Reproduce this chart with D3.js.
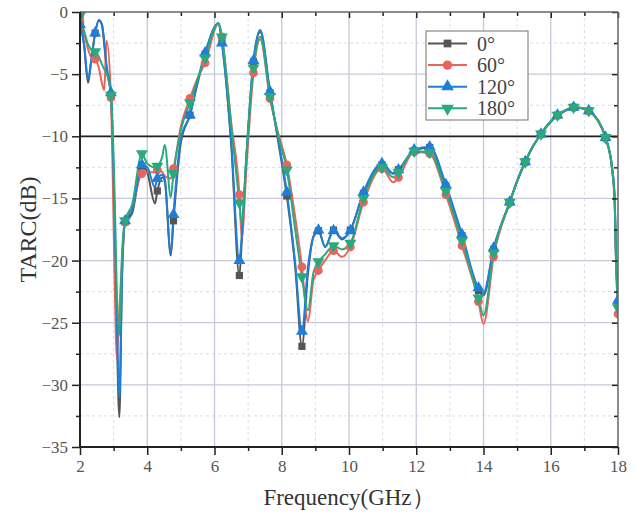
<!DOCTYPE html>
<html>
<head>
<meta charset="utf-8">
<script src="https://cdn.jsdelivr.net/npm/d3@7"></script>
<style>
  body { margin: 0; background: #fff; }
  svg { display: block; font-family: "Liberation Serif", "DejaVu Serif", serif; }
</style>
</head>
<body>
<svg id="chart" width="636" height="516"></svg>
<script>
"use strict";

// Frequency points (GHz)
const freq = [2.00, 2.12, 2.24, 2.33, 2.45, 2.56, 2.65, 2.72, 2.79, 2.92,
    3.05, 3.09, 3.17, 3.25, 3.34, 3.55, 3.84, 4.00, 4.23, 4.30,
    4.45, 4.52, 4.70, 4.78, 5.00, 5.27, 5.50, 5.72, 6.12, 6.22,
    6.50, 6.74, 6.81, 6.95, 7.16, 7.36, 7.65, 7.90, 8.15, 8.40,
    8.60, 8.78, 8.94, 9.09, 9.29, 9.54, 9.79, 10.04, 10.43, 10.98,
    11.32, 11.47, 11.94, 12.40, 12.88, 13.36, 13.85, 14.00, 14.30, 14.78,
    15.00, 15.24, 15.47, 15.71, 15.95, 16.20, 16.45, 16.68, 16.90, 17.13,
    17.40, 17.63, 17.82, 17.90, 17.94, 18.00];

// TARC (dB) for each angle
const tarc0 = [-0.6, -2.6, -5.7, -4.0, -1.7, -0.65, -1.0, -2.6, -4.6, -6.7,
    -20, -25, -32.6, -21.5, -16.9, -16.2, -12.4, -12.9, -15.4, -14.4,
    -13.3, -13.6, -19.6, -16.8, -10.5, -8.3, -5.7, -3.4, -0.9, -2.4,
    -10.8, -21.2, -18.5, -11.8, -4.0, -1.6, -6.5, -10.5, -14.8, -20.5,
    -26.9, -21.0, -18.1, -17.6, -18.9, -17.55, -18.3, -17.55, -14.6, -12.3,
    -13.0, -12.7, -11.15, -10.9, -14.0, -18.0, -22.4, -22.8, -19.1, -15.3,
    -13.6, -12.05, -10.8, -9.82, -8.95, -8.3, -7.9, -7.67, -7.72, -7.94,
    -8.7, -10.1, -12.5, -15.1, -19.7, -23.5];

const tarc60 = [-0.8, -1.7, -3.0, -3.6, -3.8, -4.5, -5.7, -6.3, -2.3, -6.9,
    -24, -27.9, -24, -20, -16.9, -15.8, -13.0, -12.9, -12.9, -12.7,
    -12.9, -13.2, -13.4, -12.6, -9.2, -6.95, -5.3, -4.1, -0.9, -2.0,
    -9.0, -14.7, -18.2, -12.5, -4.9, -2.2, -6.95, -9.8, -12.3, -16.5,
    -20.5, -24.9, -21.6, -20.8, -20.0, -19.2, -19.7, -18.9, -15.3, -12.6,
    -13.7, -13.3, -11.25, -11.4, -14.7, -18.8, -23.3, -25.1, -19.7, -15.35,
    -13.65, -12.1, -10.85, -9.85, -9.0, -8.35, -7.95, -7.7, -7.75, -7.98,
    -8.75, -10.15, -12.6, -15.3, -20.0, -24.3];

const tarc120 = [-1.0, -2.6, -5.4, -4.0, -1.7, -0.7, -1.0, -2.3, -4.3, -6.5,
    -19, -24, -31.0, -21, -16.8, -16.0, -12.3, -12.5, -14.1, -13.4,
    -13.1, -13.4, -19.4, -16.3, -10.2, -8.3, -5.5, -3.3, -0.9, -2.5,
    -10.5, -20.0, -18.0, -11.5, -3.9, -1.45, -6.4, -10.3, -14.5, -20.2,
    -25.7, -20.5, -18.1, -17.55, -18.9, -17.6, -18.2, -17.6, -14.5, -12.2,
    -13.0, -12.7, -11.1, -10.85, -13.9, -17.9, -22.2, -22.6, -19.0, -15.3,
    -13.6, -12.05, -10.8, -9.82, -8.95, -8.3, -7.9, -7.67, -7.72, -7.94,
    -8.7, -10.1, -12.4, -14.9, -19.4, -23.2];

const tarc180 = [-0.3, -1.5, -2.6, -3.0, -3.2, -3.6, -4.2, -4.6, -4.9, -6.7,
    -17, -22, -26, -19.5, -16.8, -15.5, -11.4, -12.2, -12.5, -12.4,
    -11.6, -10.7, -14.9, -13.0, -9.5, -7.3, -5.4, -3.7, -0.9, -2.0,
    -9.2, -15.35, -17.0, -11.5, -4.5, -2.0, -6.8, -10.0, -12.7, -17.5,
    -21.3, -24.0, -21.0, -20.1, -19.5, -18.8, -19.1, -18.6, -15.0, -12.5,
    -13.3, -12.9, -11.2, -11.3, -14.4, -18.4, -23.0, -24.4, -19.4, -15.3,
    -13.6, -12.05, -10.8, -9.82, -8.95, -8.3, -7.9, -7.67, -7.72, -7.94,
    -8.7, -10.1, -12.5, -15.1, -19.8, -23.8];

// Frequencies that carry a marker symbol
const markerFreq = [2.00, 2.45, 2.92, 3.34, 3.84, 4.30, 4.78, 5.27, 5.72, 6.22,
    6.74, 7.16, 7.65, 8.15, 8.60, 9.09, 9.54, 10.04, 10.43, 10.98,
    11.47, 11.94, 12.40, 12.88, 13.36, 13.85, 14.30, 14.78, 15.24, 15.71,
    16.20, 16.68, 17.13, 17.63, 18.00];

const seriesNames = ["0°", "60°", "120°", "180°"];
const xTicks = [2, 4, 6, 8, 10, 12, 14, 16, 18];
const yTicks = [0, -5, -10, -15, -20, -25, -30, -35];

const series = [
    { name: seriesNames[0], values: tarc0,   color: "#555555", symbol: d3.symbolSquare,   size: 52, rotate: 0 },
    { name: seriesNames[1], values: tarc60,  color: "#e8645c", symbol: d3.symbolCircle,   size: 60, rotate: 0 },
    { name: seriesNames[2], values: tarc120, color: "#1f7fd8", symbol: d3.symbolTriangle, size: 62, rotate: 0 },
    { name: seriesNames[3], values: tarc180, color: "#2aaa7c", symbol: d3.symbolTriangle, size: 62, rotate: 180 }
];

const margin = { left: 80, right: 18, top: 12, bottom: 69 };
const width = 636 - margin.left - margin.right;
const height = 516 - margin.top - margin.bottom;

const svg = d3.select("#chart");
const g = svg.append("g").attr("transform", `translate(${margin.left},${margin.top})`);

const x = d3.scaleLinear().domain([2, 18]).range([0, width]);
const y = d3.scaleLinear().domain([-35, 0]).range([height, 0]);

svg.append("defs").append("clipPath").attr("id", "plotClip")
    .append("rect").attr("width", width).attr("height", height);

// Minor grid (dashed)
const minorX = d3.range(3, 18, 2);
const minorY = d3.range(-32.5, 0, 5);
g.append("g").selectAll("line").data(minorX).enter().append("line")
    .attr("x1", d => x(d)).attr("x2", d => x(d)).attr("y1", 0).attr("y2", height)
    .attr("stroke", "#d9dce5").attr("stroke-dasharray", "3,3");
g.append("g").selectAll("line").data(minorY).enter().append("line")
    .attr("y1", d => y(d)).attr("y2", d => y(d)).attr("x1", 0).attr("x2", width)
    .attr("stroke", "#d9dce5").attr("stroke-dasharray", "3,3");

// Major grid
g.append("g").selectAll("line").data(xTicks.slice(1, -1)).enter().append("line")
    .attr("x1", d => x(d)).attr("x2", d => x(d)).attr("y1", 0).attr("y2", height)
    .attr("stroke", "#c6cad8").attr("stroke-width", 1.3);
g.append("g").selectAll("line").data(yTicks.slice(1, -1)).enter().append("line")
    .attr("y1", d => y(d)).attr("y2", d => y(d)).attr("x1", 0).attr("x2", width)
    .attr("stroke", "#c6cad8").attr("stroke-width", 1.3);

// -10 dB reference line
g.append("line")
    .attr("x1", 0).attr("x2", width).attr("y1", y(-10)).attr("y2", y(-10))
    .attr("stroke", "#222").attr("stroke-width", 1.8);

// Curves
const line = d3.line()
    .x(d => x(d.f))
    .y(d => y(d.v))
    .curve(d3.curveMonotoneX);

const plot = g.append("g").attr("clip-path", "url(#plotClip)");

series.forEach(s => {
    const pts = freq.map((f, i) => ({ f: f, v: s.values[i] }));
    plot.append("path")
        .datum(pts)
        .attr("fill", "none")
        .attr("stroke", s.color)
        .attr("stroke-width", 2)
        .attr("stroke-linejoin", "round")
        .attr("d", line);
});

series.forEach(s => {
    const pts = freq.map((f, i) => ({ f: f, v: s.values[i] }))
        .filter(d => markerFreq.indexOf(d.f) >= 0);
    const sym = d3.symbol().type(s.symbol).size(s.size);
    plot.append("g").selectAll("path").data(pts).enter().append("path")
        .attr("transform", d => `translate(${x(d.f)},${y(d.v)}) rotate(${s.rotate})`)
        .attr("d", sym)
        .attr("fill", s.color);
});

// Axes
function styleAxis(sel) {
    sel.select(".domain").remove();
    sel.selectAll(".tick line").attr("stroke", "#222").attr("stroke-width", 1.5);
    sel.selectAll(".tick text").attr("fill", "#555").style("font-size", "17px")
        .style("font-family", "'Liberation Serif', 'DejaVu Serif', serif");
}

const xAxis = g.append("g").attr("transform", `translate(0,${height})`)
    .call(d3.axisBottom(x).tickValues(xTicks).tickSize(8).tickPadding(5));
styleAxis(xAxis);
const xMinor = g.append("g").attr("transform", `translate(0,${height})`)
    .call(d3.axisBottom(x).tickValues(minorX).tickSize(4).tickFormat(""));
styleAxis(xMinor);

const yAxis = g.append("g")
    .call(d3.axisLeft(y).tickValues(yTicks).tickSize(8).tickPadding(4));
styleAxis(yAxis);
const yMinor = g.append("g")
    .call(d3.axisLeft(y).tickValues(minorY).tickSize(4).tickFormat(""));
styleAxis(yMinor);

// Inward ticks on top and right frame
const topTicks = g.append("g")
    .call(d3.axisTop(x).tickValues(xTicks).tickSize(-6).tickFormat(""));
styleAxis(topTicks);
const topMinor = g.append("g")
    .call(d3.axisTop(x).tickValues(minorX).tickSize(-4).tickFormat(""));
styleAxis(topMinor);
const rightTicks = g.append("g").attr("transform", `translate(${width},0)`)
    .call(d3.axisRight(y).tickValues(yTicks).tickSize(-6).tickFormat(""));
styleAxis(rightTicks);
const rightMinor = g.append("g").attr("transform", `translate(${width},0)`)
    .call(d3.axisRight(y).tickValues(minorY).tickSize(-4).tickFormat(""));
styleAxis(rightMinor);

// Frame
g.append("line").attr("x1", 0).attr("x2", width).attr("y1", 0).attr("y2", 0)
    .attr("stroke", "#666").attr("stroke-width", 1.5);
g.append("line").attr("x1", width).attr("x2", width).attr("y1", 0).attr("y2", height)
    .attr("stroke", "#666").attr("stroke-width", 1.5);
g.append("line").attr("x1", 0).attr("x2", width).attr("y1", height).attr("y2", height)
    .attr("stroke", "#222").attr("stroke-width", 2);
g.append("line").attr("x1", 0).attr("x2", 0).attr("y1", 0).attr("y2", height)
    .attr("stroke", "#222").attr("stroke-width", 2);

// Axis titles
svg.append("text")
    .attr("x", margin.left + width / 2)
    .attr("y", 505)
    .attr("text-anchor", "middle")
    .attr("fill", "#333")
    .style("font-size", "23px")
    .text("Frequency(GHz）");

svg.append("text")
    .attr("transform", `translate(36,${margin.top + height / 2}) rotate(-90)`)
    .attr("text-anchor", "middle")
    .attr("fill", "#333")
    .style("font-size", "24px")
    .text("TARC(dB)");

// Legend
const legend = svg.append("g").attr("transform", "translate(426,31)");
legend.append("rect")
    .attr("width", 102).attr("height", 89)
    .attr("fill", "#fff").attr("stroke", "#888").attr("stroke-width", 1.2);

series.forEach((s, i) => {
    const row = legend.append("g").attr("transform", `translate(0,${12.5 + i * 21.6})`);
    row.append("line")
        .attr("x1", 2).attr("x2", 41).attr("y1", 0).attr("y2", 0)
        .attr("stroke", s.color).attr("stroke-width", 2);
    row.append("path")
        .attr("transform", `translate(21.5,0) rotate(${s.rotate})`)
        .attr("d", d3.symbol().type(s.symbol).size(s.size + 8))
        .attr("fill", s.color);
    row.append("text")
        .attr("x", 51).attr("y", 7)
        .attr("fill", "#444")
        .style("font-size", "20px")
        .text(s.name);
});
</script>
</body>
</html>
